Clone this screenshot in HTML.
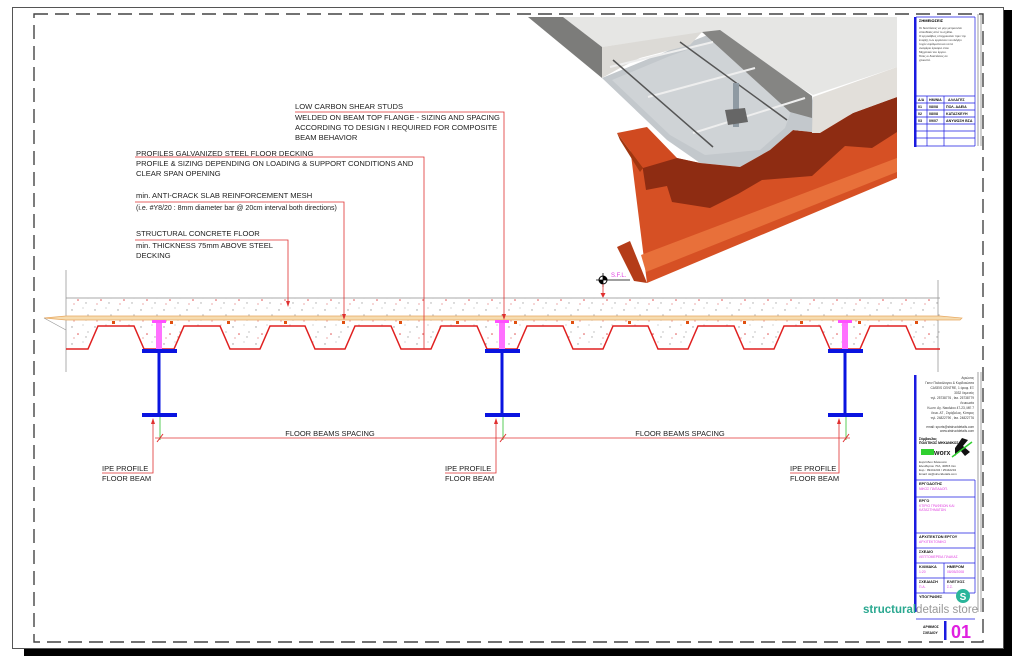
<!DOCTYPE html>
<html><head><meta charset="utf-8"><style>
html,body{margin:0;padding:0;background:#fff;}
svg{display:block;}
text{font-family:"Liberation Sans","DejaVu Sans",sans-serif;}
</style></head><body>
<svg width="1024" height="662" viewBox="0 0 1024 662" xmlns="http://www.w3.org/2000/svg">
<defs>
<pattern id="conc" width="23" height="17" patternUnits="userSpaceOnUse">
<rect width="23" height="17" fill="#fff"/>
<circle cx="3" cy="4" r="0.7" fill="#999"/><circle cx="14" cy="2" r="0.6" fill="#bbb"/>
<circle cx="9" cy="11" r="0.8" fill="#e05050"/><circle cx="19" cy="9" r="0.6" fill="#999"/>
<circle cx="5" cy="15" r="0.6" fill="#e07070"/><circle cx="17" cy="14" r="0.7" fill="#aaa"/>
</pattern>
</defs>
<rect width="1024" height="662" fill="#fff"/>
<rect x="24" y="649" width="988" height="7" fill="#000"/>
<rect x="1004" y="10" width="8" height="646" fill="#000"/>
<rect x="12.5" y="7.5" width="991" height="641" fill="#fff" stroke="#555" stroke-width="1"/>
<rect x="34" y="14" width="949" height="628" fill="none" stroke="#444" stroke-width="1.4" stroke-dasharray="14,7"/>

<!-- 3D render approx -->
<g>
<!-- red beam -->
<polygon points="630,147 677,158 700,163 897,100 897,178 647,283" fill="#d65024"/>
<polygon points="640,150 700,163 740,167 770,150 793,130 820,133 853,113 897,97 897,132 872,148 845,146 812,176 762,180 738,194 710,208 672,202 667,186 646,190" fill="#8e2c12"/>
<polygon points="641,255 897,158 897,172 646,272" fill="#e8703a"/>
<polygon points="617,247 630,241 647,283 634,281" fill="#b43c18"/>
<polygon points="617,133 647,127 677,158 643,168" fill="#d04a20"/>
<polygon points="617,133 643,168 640,172 620,140" fill="#a0360f"/>
<!-- slab -->
<polygon points="563,17 897,17 897,67 813,95 707,32 602,47" fill="#e6e6e4"/>
<polygon points="528,17 563,17 602,47 602,78" fill="#7c7c7a"/>
<polygon points="602,78 670,50 720,30 812,96 820,133 793,130 770,150 740,167 700,163 667,140" fill="#c3c8cc"/>
<polygon points="612,80 670,56 715,40 795,100 785,128 760,150 705,155 670,135" fill="#cfd3d6"/>
<polygon points="702,32 720,30 812,96 812,118 790,112" fill="#858583"/>
<polygon points="602,47 702,32 690,45 640,58 620,68 602,78" fill="#dcdad6"/>
<polygon points="813,97 897,67 897,97 853,113 820,133 812,133" fill="#e2dfda"/>
<line x1="610" y1="67" x2="713" y2="42" stroke="#eee" stroke-width="2"/>
<line x1="648" y1="97" x2="755" y2="68" stroke="#eee" stroke-width="2"/>
<line x1="693" y1="133" x2="805" y2="98" stroke="#eee" stroke-width="2"/>
<line x1="613" y1="60" x2="713" y2="147" stroke="#555" stroke-width="1.5"/>
<line x1="680" y1="42" x2="787" y2="120" stroke="#555" stroke-width="1.5"/>
<rect x="733" y="83" width="6" height="44" fill="#8f9aa3"/>
<polygon points="725,110 745,108 748,122 728,125" fill="#666"/>
</g>

<!-- S.F.L. -->
<circle cx="603" cy="280" r="4" fill="none" stroke="#000" stroke-width="1"/>
<line x1="596" y1="280" x2="630" y2="280" stroke="#000" stroke-width="0.8"/>
<line x1="603" y1="273" x2="603" y2="287" stroke="#000" stroke-width="0.8"/>
<path d="M603,276 A4,4 0 0 1 607,280 L603,280Z M603,284 A4,4 0 0 1 599,280 L603,280Z" fill="#000"/>
<text x="611" y="277" font-size="6" fill="#e040e0">S.F.L.</text>
<line x1="603" y1="284" x2="603" y2="296" stroke="#e03030" stroke-width="0.8"/>
<path d="M600.5,293 L603,298 L605.5,293Z" fill="#e03030"/>

<!-- slab -->
<path d="M66,349 L88,349 L98,326 L134,326 L144,349 L174,349 L184,326 L220,326 L230,349 L260,349 L270,326 L305,326 L315,349 L345,349 L355,326 L391,326 L401,349 L431,349 L441,326 L477,326 L487,349 L517,349 L527,326 L563,326 L573,349 L603,349 L613,326 L648,326 L658,349 L688,349 L698,326 L734,326 L744,349 L774,349 L784,326 L820,326 L830,349 L860,349 L870,326 L906,326 L916,349 L940,349 L940,298 L66,298 Z" fill="url(#conc)"/>
<line x1="66" y1="298" x2="940" y2="298" stroke="#aaa" stroke-width="1"/>
<line x1="66" y1="270" x2="66" y2="372" stroke="#999" stroke-width="0.8"/>
<line x1="938" y1="280" x2="938" y2="372" stroke="#999" stroke-width="0.8"/>
<path d="M66,349 L88,349 L98,326 L134,326 L144,349 L174,349 L184,326 L220,326 L230,349 L260,349 L270,326 L305,326 L315,349 L345,349 L355,326 L391,326 L401,349 L431,349 L441,326 L477,326 L487,349 L517,349 L527,326 L563,326 L573,349 L603,349 L613,326 L648,326 L658,349 L688,349 L698,326 L734,326 L744,349 L774,349 L784,326 L820,326 L830,349 L860,349 L870,326 L906,326 L916,349 L940,349" fill="none" stroke="#e02020" stroke-width="1.5"/>
<path d="M66,316 L44,318 L66,320 L960,320 L962,318 L940,316 Z" fill="#f6dcb0" stroke="#e8a860" stroke-width="0.7"/>
<path d="M44,318 L66,330" stroke="#999" stroke-width="0.7"/>
<g fill="#e05010">
<rect x="112" y="321" width="3" height="3"/><rect x="170" y="321" width="3" height="3"/><rect x="227" y="321" width="3" height="3"/><rect x="284" y="321" width="3" height="3"/><rect x="342" y="321" width="3" height="3"/><rect x="399" y="321" width="3" height="3"/><rect x="456" y="321" width="3" height="3"/><rect x="514" y="321" width="3" height="3"/><rect x="571" y="321" width="3" height="3"/><rect x="628" y="321" width="3" height="3"/><rect x="686" y="321" width="3" height="3"/><rect x="743" y="321" width="3" height="3"/><rect x="800" y="321" width="3" height="3"/><rect x="858" y="321" width="3" height="3"/><rect x="915" y="321" width="3" height="3"/>
</g>
<g id="b1">
<rect x="152" y="320" width="14" height="3" fill="#ff50ff"/>
<rect x="156" y="323" width="6" height="26" fill="#ff70ff"/>
<rect x="142" y="349" width="35" height="4" fill="#0a14e0"/>
<rect x="157.5" y="353" width="3" height="60" fill="#0a14e0"/>
<rect x="142" y="413" width="35" height="4" fill="#0a14e0"/>
<line x1="160" y1="417" x2="160" y2="440" stroke="#30c030" stroke-width="0.8"/>
</g>
<use href="#b1" x="343"/>
<use href="#b1" x="686"/>

<line x1="155" y1="438" x2="850" y2="438" stroke="#e03030" stroke-width="0.8"/>
<g stroke="#e03030" stroke-width="1"><line x1="157" y1="442" x2="163" y2="434"/><line x1="500" y1="442" x2="506" y2="434"/><line x1="843" y1="442" x2="849" y2="434"/></g>
<text x="330" y="436" font-size="7.5" text-anchor="middle" fill="#222">FLOOR BEAMS SPACING</text>
<text x="680" y="436" font-size="7.5" text-anchor="middle" fill="#222">FLOOR BEAMS SPACING</text>

<g font-size="7.5" fill="#222">
<text x="102" y="471">IPE PROFILE</text><text x="102" y="481">FLOOR BEAM</text>
<text x="445" y="471">IPE PROFILE</text><text x="445" y="481">FLOOR BEAM</text>
<text x="790" y="471">IPE PROFILE</text><text x="790" y="481">FLOOR BEAM</text>
</g>
<g stroke="#e03030" stroke-width="0.8" fill="none">
<path d="M102,473 L153,473 L153,420"/><path d="M445,473 L496,473 L496,420"/><path d="M790,473 L839,473 L839,420"/>
</g>
<g fill="#e03030"><path d="M151,424 L153,418 L155,424Z"/><path d="M494,424 L496,418 L498,424Z"/><path d="M837,424 L839,418 L841,424Z"/></g>

<g font-size="7.6" fill="#222">
<text x="295" y="109">LOW CARBON SHEAR STUDS</text>
<text x="295" y="120">WELDED ON BEAM TOP FLANGE - SIZING AND SPACING</text>
<text x="295" y="130">ACCORDING TO DESIGN I REQUIRED FOR COMPOSITE</text>
<text x="295" y="140">BEAM BEHAVIOR</text>
<text x="136" y="156">PROFILES GALVANIZED STEEL FLOOR DECKING</text>
<text x="136" y="166">PROFILE &amp; SIZING DEPENDING ON LOADING &amp; SUPPORT CONDITIONS AND</text>
<text x="136" y="176">CLEAR SPAN OPENING</text>
<text x="136" y="198">min. ANTI-CRACK SLAB REINFORCEMENT MESH</text>
<text x="136" y="210" font-size="7">(i.e. #Y8/20 : 8mm diameter bar @ 20cm interval both directions)</text>
<text x="136" y="236">STRUCTURAL CONCRETE FLOOR</text>
<text x="136" y="248">min. THICKNESS 75mm ABOVE STEEL</text>
<text x="136" y="258">DECKING</text>
</g>
<g stroke="#e03030" stroke-width="0.8" fill="none">
<path d="M295,112 L504,112 L504,318"/>
<path d="M135,157 L424,157 L424,349"/>
<path d="M135,202 L344,202 L344,318"/>
<path d="M135,240 L288,240 L288,305"/>
</g>
<g fill="#e03030"><path d="M502,314 L504,320 L506,314Z"/><path d="M342,314 L344,320 L346,314Z"/><path d="M286,301 L288,307 L290,301Z"/></g>

<g>
<line x1="978" y1="14" x2="978" y2="146" stroke="#888" stroke-width="0.8"/>
<line x1="981" y1="14" x2="981" y2="146" stroke="#888" stroke-width="0.8"/>
<rect x="914" y="17" width="2.5" height="130" fill="#1a1ae0"/>
<line x1="916" y1="17" x2="975" y2="17" stroke="#1a1ae0" stroke-width="0.7"/>
<line x1="975" y1="17" x2="975" y2="146" stroke="#1a1ae0" stroke-width="0.7"/>
<text x="919" y="22" font-size="4" font-weight="bold">ΣΗΜΕΙΩΣΕΙΣ</text>
<g font-size="3" fill="#333">
<text x="919" y="29">Οι διαστάσεις να μην μετρούνται</text>
<text x="919" y="33">απευθείας από το σχέδιο.</text>
<text x="919" y="37">Ο εργολάβος υποχρεούται πριν την</text>
<text x="919" y="41">έναρξη των εργασιών να ελέγξει</text>
<text x="919" y="45">τυχόν σφάλματα και να τα</text>
<text x="919" y="49">αναφέρει έγκαιρα στον</text>
<text x="919" y="53">Μηχανικό του έργου.</text>
<text x="919" y="57">Όλες οι διαστάσεις σε</text>
<text x="919" y="61">χιλιοστά.</text>
</g>
<g stroke="#1a1ae0" stroke-width="0.7">
<line x1="916" y1="96" x2="975" y2="96"/><line x1="916" y1="103" x2="975" y2="103"/><line x1="916" y1="110" x2="975" y2="110"/><line x1="916" y1="117" x2="975" y2="117"/><line x1="916" y1="124" x2="975" y2="124"/><line x1="916" y1="131" x2="975" y2="131"/><line x1="916" y1="138" x2="975" y2="138"/><line x1="916" y1="146" x2="975" y2="146"/>
<line x1="927" y1="96" x2="927" y2="146"/><line x1="944" y1="96" x2="944" y2="146"/>
</g>
<g font-size="3.6" font-weight="bold" fill="#111">
<text x="918" y="101">Α/Α</text><text x="929" y="101">ΗΜ/ΝΙΑ</text><text x="948" y="101">ΑΛΛΑΓΕΣ</text>
<text x="918" y="108">01</text><text x="929" y="108">08/08</text><text x="946" y="108">ΠΟΛ. ΑΔΕΙΑ</text>
<text x="918" y="115">02</text><text x="929" y="115">08/08</text><text x="946" y="115">ΚΑΤΑΣΚΕΥΗ</text>
<text x="918" y="122">03</text><text x="929" y="122">09/07</text><text x="946" y="122">ΑΝΥΨΩΣΗ ΒΣΑ</text>
</g>
</g>

<g>
<line x1="978" y1="372" x2="978" y2="612" stroke="#888" stroke-width="0.8"/>
<line x1="981" y1="372" x2="981" y2="612" stroke="#888" stroke-width="0.8"/>
<rect x="914" y="375" width="2.5" height="237" fill="#1a1ae0"/>
<g font-size="3.2" fill="#333" text-anchor="end">
<text x="974" y="379">Αγκώνας</text>
<text x="974" y="384">Γιανν Παλαιόλογου &amp; Κορδοκώτσα</text>
<text x="974" y="389">CASEIS CENTRE, 1 όροφ. ΕΞ</text>
<text x="974" y="394">3032 Λεμεσός</text>
<text x="974" y="399">τηλ. 25738776 , fax. 25738779</text>
<text x="974" y="404">Λευκωσία</text>
<text x="974" y="409">Κωνσ. Αγ. Νικολάου 47-23, ΜΕ 7</text>
<text x="974" y="414">Λευκ. ΑΤ , Στρόβολος, Κύπρος</text>
<text x="974" y="419">τηλ. 24822790 , fax. 24822776</text>
<text x="974" y="428">email: sports@ststructdetails.com</text>
<text x="974" y="432">www.ststructdetails.com</text>
</g>
<text x="919" y="440" font-size="3.4" font-weight="bold">Σύμβουλος</text>
<text x="919" y="444" font-size="3.4" font-weight="bold">ΠΟΛΙΤΙΚΟΣ ΜΗΧΑΝΙΚΟΣ</text>
<rect x="921" y="449" width="13" height="6" fill="#30d030"/>
<text x="934" y="455" font-size="7" font-weight="bold" fill="#222">worx</text>
<path d="M955,448 L962,438 L968,440 L963,446 L970,452 L965,456 L960,450 L955,456Z" fill="#111"/>
<line x1="952" y1="457" x2="972" y2="442" stroke="#30d030" stroke-width="1.5"/>
<g font-size="3" fill="#333">
<text x="919" y="463">Ευριπίδου Σάκκουλα</text>
<text x="919" y="467">Ελευθερίου 70Α, 40815 Λευ</text>
<text x="919" y="471">Ευρ.: 99441234 / 25442234</text>
<text x="919" y="475">Email: sk@structdetails.com</text>
</g>
<g stroke="#1a1ae0" stroke-width="0.7" fill="none">
<line x1="916" y1="480" x2="975" y2="480"/><line x1="916" y1="497" x2="975" y2="497"/><line x1="916" y1="533" x2="975" y2="533"/><line x1="916" y1="548" x2="975" y2="548"/><line x1="916" y1="563" x2="975" y2="563"/><line x1="916" y1="578" x2="975" y2="578"/><line x1="916" y1="593" x2="975" y2="593"/>
<line x1="975" y1="480" x2="975" y2="593"/>
<line x1="944" y1="563" x2="944" y2="593"/>
<line x1="916" y1="619" x2="975" y2="619"/>
</g>
<g font-size="3.8" font-weight="bold" fill="#111">
<text x="919" y="485">ΕΡΓΟΔΟΤΗΣ</text>
<text x="919" y="502">ΕΡΓΟ</text>
<text x="919" y="538">ΑΡΧΙΤΕΚΤΩΝ ΕΡΓΟΥ</text>
<text x="919" y="553">ΣΧΕΔΙΟ</text>
<text x="919" y="568">ΚΛΙΜΑΚΑ</text><text x="947" y="568">ΗΜΕΡΟΜ</text>
<text x="919" y="583">ΣΧΕΔΙΑΣΗ</text><text x="947" y="583">ΕΛΕΓΧΟΣ</text>
<text x="919" y="598">ΥΠΟΓΡΑΦΕΣ</text>
</g>
<g font-size="3.4" fill="#e040e0">
<text x="919" y="490">ΝΙΚΟΣ ΠΑΠΑΔΟΠ.</text>
<text x="919" y="507">ΚΤΙΡΙΟ ΓΡΑΦΕΙΩΝ ΚΑΙ</text>
<text x="919" y="511">ΚΑΤΑΣΤΗΜΑΤΩΝ</text>
<text x="919" y="543">ΑΡΧΙΤΕΚΤΟΝΙΚΟ</text>
<text x="919" y="558">ΛΕΠΤΟΜΕΡΕΙΑ ΠΛΑΚΑΣ</text>
<text x="919" y="573">1:20</text><text x="947" y="573">08/05/2008</text>
<text x="919" y="588">Π.Α.</text><text x="947" y="588">Σ.Σ.</text>
</g>
<circle cx="963" cy="596" r="7" fill="#2ab59a"/>
<text x="963" y="600" font-size="10" font-weight="bold" fill="#fff" text-anchor="middle">S</text>
<text x="863" y="613" font-size="11.5"><tspan fill="#2aa890" font-weight="bold">structural</tspan><tspan fill="#999">details store</tspan></text>
<g font-size="3.4" font-weight="bold" fill="#111"><text x="923" y="628">ΑΡΙΘΜΟΣ</text><text x="923" y="634">ΣΧΕΔΙΟΥ</text></g>
<rect x="944" y="621" width="2.5" height="19" fill="#1a1ae0"/>
<text x="951" y="638" font-size="18" font-weight="bold" fill="#e020e0">01</text>
</g>
</svg>
</body></html>
